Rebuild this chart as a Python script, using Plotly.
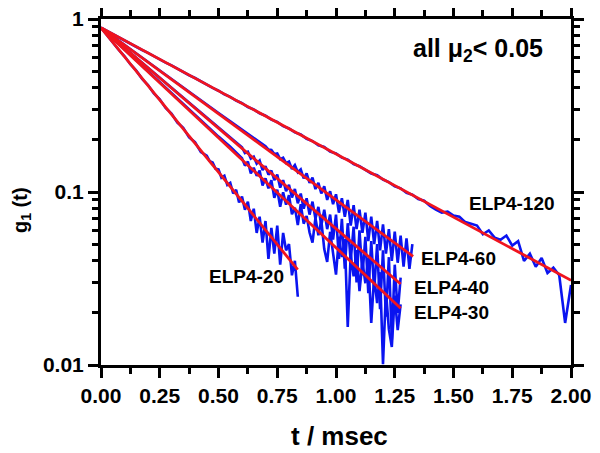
import numpy as np
import plotly.graph_objects as go

# ---------------- data ----------------
# ELP4-120
t_elp120 = [0.000, 0.025, 0.050, 0.075, 0.100, 0.125, 0.150, 0.175, 0.200, 0.225,
            0.250, 0.275, 0.300, 0.325, 0.350, 0.375, 0.400, 0.425, 0.450, 0.475,
            0.500, 0.525, 0.550, 0.575, 0.600, 0.625, 0.650, 0.675, 0.700, 0.725,
            0.750, 0.775, 0.800, 0.825, 0.850, 0.875, 0.900, 0.925, 0.950, 0.975,
            1.000, 1.025, 1.050, 1.075, 1.100, 1.125, 1.150, 1.175, 1.200, 1.225,
            1.250, 1.275, 1.300, 1.325, 1.350, 1.375, 1.400, 1.425, 1.450, 1.475,
            1.500, 1.525, 1.550, 1.575, 1.600, 1.625, 1.650, 1.675, 1.700, 1.725,
            1.750, 1.775, 1.800, 1.825, 1.850, 1.875, 1.900, 1.925, 1.950, 1.975,
            2.000]
g_elp120 = [0.890, 0.852, 0.819, 0.784, 0.753, 0.720, 0.693, 0.662, 0.637, 0.609,
            0.586, 0.560, 0.539, 0.515, 0.496, 0.473, 0.456, 0.435, 0.419, 0.400,
            0.385, 0.367, 0.355, 0.338, 0.326, 0.310, 0.300, 0.285, 0.276, 0.262,
            0.254, 0.240, 0.233, 0.221, 0.215, 0.203, 0.197, 0.186, 0.182, 0.171,
            0.167, 0.158, 0.154, 0.145, 0.141, 0.135, 0.128, 0.125, 0.118, 0.114,
            0.108, 0.105, 0.0990, 0.0965, 0.0910, 0.0890, 0.0830, 0.0790, 0.0760, 0.0770,
            0.0730, 0.0720, 0.0670, 0.0655, 0.0640, 0.0570, 0.0600, 0.0545, 0.0530, 0.0560,
            0.0490, 0.0520, 0.0400, 0.0440, 0.0370, 0.0415, 0.0340, 0.0365, 0.0330, 0.0175,
            0.0290]

# ELP4-60
t_elp60 = [0.000, 0.050, 0.100, 0.150, 0.200, 0.250, 0.300, 0.350, 0.400, 0.450,
           0.500, 0.550, 0.600, 0.650,
           0.7000, 0.7125, 0.7250, 0.7375, 0.7500, 0.7625, 0.7750, 0.7875, 0.8000, 0.8125,
           0.8250, 0.8375, 0.8500, 0.8625, 0.8750, 0.8875, 0.9000, 0.9125, 0.9250, 0.9375,
           0.9500, 0.9625, 0.9750, 0.9875, 1.0000, 1.0125, 1.0250, 1.0375, 1.0500, 1.0625,
           1.0750, 1.0875, 1.1000, 1.1125, 1.1250, 1.1375, 1.1500, 1.1625, 1.1750, 1.1875,
           1.2000, 1.2125, 1.2250, 1.2375, 1.2500, 1.2625, 1.2750, 1.2875, 1.3000, 1.3125,
           1.3250]
g_elp60 = [0.890, 0.796, 0.710, 0.633, 0.565, 0.504, 0.450, 0.401, 0.358, 0.320,
           0.286, 0.256, 0.229, 0.205,
           0.184, 0.176, 0.175, 0.166, 0.167, 0.155, 0.158, 0.147, 0.150, 0.136,
           0.143, 0.130, 0.135, 0.120, 0.128, 0.113, 0.121, 0.104, 0.113, 0.0980,
           0.108, 0.0900, 0.101, 0.0850, 0.0970, 0.0760, 0.0920, 0.0720, 0.0900, 0.0640,
           0.0840, 0.0610, 0.0790, 0.0580, 0.0760, 0.0520, 0.0720, 0.0500, 0.0680, 0.0460,
           0.0650, 0.0440, 0.0610, 0.0400, 0.0590, 0.0390, 0.0560, 0.0370, 0.0540, 0.0360,
           0.0500]

# ELP4-40
t_elp40 = [0.000, 0.050, 0.100, 0.150, 0.200, 0.250, 0.300, 0.350, 0.400, 0.450,
           0.500, 0.550,
           0.6000, 0.6125, 0.6250, 0.6375, 0.6500, 0.6625, 0.6750, 0.6875, 0.7000, 0.7125,
           0.7250, 0.7375, 0.7500, 0.7625, 0.7750, 0.7875, 0.8000, 0.8125, 0.8250, 0.8375,
           0.8500, 0.8625, 0.8750, 0.8875, 0.9000, 0.9125, 0.9250, 0.9375, 0.9500, 0.9625,
           0.9750, 0.9875, 1.0000, 1.0125, 1.0250, 1.0375, 1.0500, 1.0625, 1.0750, 1.0875,
           1.1000, 1.1125, 1.1250, 1.1375, 1.1500, 1.1625, 1.1750, 1.1875, 1.2000, 1.2125,
           1.2250, 1.2375, 1.2500, 1.2625, 1.2750]
g_elp40 = [0.890, 0.781, 0.683, 0.598, 0.523, 0.458, 0.401, 0.351, 0.307, 0.269,
           0.236, 0.208,
           0.181, 0.168, 0.171, 0.156, 0.160, 0.146, 0.152, 0.134, 0.141, 0.126,
           0.133, 0.117, 0.126, 0.106, 0.117, 0.101, 0.110, 0.0930, 0.104, 0.0860,
           0.0980, 0.0800, 0.0920, 0.0740, 0.0880, 0.0700, 0.0820, 0.0640, 0.0790, 0.0610,
           0.0740, 0.0530, 0.0740, 0.0410, 0.0700, 0.0360, 0.0660, 0.0400, 0.0630, 0.0300,
           0.0600, 0.0330, 0.0550, 0.0260, 0.0520, 0.0270, 0.0500, 0.0210, 0.0460, 0.0190,
           0.0420, 0.0140, 0.0380, 0.0200, 0.0320]

# ELP4-30
t_elp30 = [0.000, 0.050, 0.100, 0.150, 0.200, 0.250, 0.300, 0.350, 0.400, 0.450,
           0.500, 0.550,
           0.6000, 0.6125, 0.6250, 0.6375, 0.6500, 0.6625, 0.6750, 0.6875, 0.7000, 0.7125,
           0.7250, 0.7375, 0.7500, 0.7625, 0.7750, 0.7875, 0.8000, 0.8125, 0.8250, 0.8375,
           0.8500, 0.8625, 0.8750, 0.8875, 0.9000, 0.9125, 0.9250, 0.9375, 0.9500, 0.9625,
           0.9750, 0.9875, 1.0000, 1.0125, 1.0250, 1.0375, 1.0500, 1.0625, 1.0750, 1.0875,
           1.1000, 1.1125, 1.1250, 1.1375, 1.1500, 1.1625, 1.1750, 1.1875, 1.2000, 1.2125,
           1.2250, 1.2375, 1.2500, 1.2625, 1.2750]
g_elp30 = [0.890, 0.771, 0.667, 0.577, 0.499, 0.431, 0.373, 0.323, 0.279, 0.242,
           0.209, 0.183,
           0.157, 0.142, 0.150, 0.128, 0.138, 0.124, 0.133, 0.109, 0.120, 0.105,
           0.117, 0.0925, 0.103, 0.0821, 0.0995, 0.0844, 0.0959, 0.0743, 0.0812, 0.0644,
           0.0851, 0.0656, 0.0728, 0.0583, 0.0510, 0.0708, 0.0563, 0.0686, 0.0468, 0.0394,
           0.0589, 0.0454, 0.0333, 0.0551, 0.0421, 0.0534, 0.0166, 0.0437, 0.0325, 0.0461,
           0.0267, 0.0394, 0.0297, 0.0415, 0.0175, 0.0326, 0.0228, 0.0344, 0.0101, 0.0269,
           0.0161, 0.0127, 0.0252, 0.0159, 0.0224]

# ELP4-20
t_elp20 = [0.000, 0.025, 0.050, 0.075, 0.100, 0.125, 0.150, 0.175, 0.200, 0.225,
           0.250, 0.275, 0.300, 0.325, 0.350, 0.375, 0.400, 0.425,
           0.4500, 0.4625, 0.4750, 0.4875, 0.5000, 0.5125, 0.5250, 0.5375, 0.5500, 0.5625,
           0.5750, 0.5875, 0.6000, 0.6125, 0.6250, 0.6375, 0.6500, 0.6625, 0.6750, 0.6875,
           0.7000, 0.7125, 0.7250, 0.7375, 0.7500, 0.7625, 0.7750, 0.7875, 0.8000, 0.8125,
           0.8250, 0.8375]
g_elp20 = [0.890, 0.806, 0.738, 0.664, 0.609, 0.548, 0.503, 0.451, 0.415, 0.372,
           0.343, 0.306, 0.284, 0.252, 0.235, 0.207, 0.194, 0.170,
           0.162, 0.151, 0.148, 0.136, 0.135, 0.121, 0.124, 0.110, 0.113, 0.098,
           0.103, 0.087, 0.094, 0.079, 0.088, 0.068, 0.080, 0.058, 0.072, 0.051,
           0.068, 0.041, 0.062, 0.044, 0.064, 0.038, 0.058, 0.046, 0.050, 0.033,
           0.040, 0.0248]

# single-exponential fits: start / end points
fit_names = ["ELP4-120", "ELP4-60", "ELP4-40", "ELP4-30", "ELP4-20"]
fit_t_end = [2.000, 1.328, 1.275, 1.275, 0.837]
fit_g0 = [0.89, 0.89, 0.89, 0.89, 0.89]
fit_g_end = [0.0309, 0.0425, 0.0294, 0.0213, 0.0356]

# label positions (data units)
label_t = [1.75, 1.52, 1.49, 1.49, 0.62]
label_g = [0.0853, 0.041, 0.0282, 0.020, 0.0323]

# ---------------- figure ----------------
series = [(t_elp120, g_elp120), (t_elp60, g_elp60), (t_elp40, g_elp40),
          (t_elp30, g_elp30), (t_elp20, g_elp20)]

FONT = "Liberation Sans"
OFF = 8  # page body margin offset
W, H = 600 - OFF, 453 - OFF
L, TOP = 101 - OFF, 19 - OFF
R = W - (571 - OFF)
B = H - (365 - OFF)
PW, PH = W - L - R, H - TOP - B


def px_to_paper(px, py):
    """Window pixel -> paper coordinates."""
    return (px - OFF - L) / PW, (H - B - (py - OFF)) / PH


fig = go.Figure()
for t, g in series:
    fig.add_trace(go.Scatter(x=t, y=g, mode="lines",
                             line=dict(color="#0a14f0", width=2.6),
                             showlegend=False, hoverinfo="skip"))
for te, g0, ge in zip(fit_t_end, fit_g0, fit_g_end):
    fig.add_trace(go.Scatter(x=[0, te], y=[g0, ge], mode="lines",
                             line=dict(color="#f0141e", width=2.8),
                             showlegend=False, hoverinfo="skip"))

for name, lt, lg in zip(fit_names, label_t, label_g):
    fig.add_annotation(x=lt, y=np.log10(lg), xref="x", yref="y", text=name,
                       showarrow=False, xanchor="center", yanchor="middle",
                       font=dict(family=FONT, size=19, color="black", weight="bold"))

fig.add_annotation(x=1.605, y=np.log10(0.66), xref="x", yref="y",
                   text="all μ<sub>2</sub>< 0.05", showarrow=False,
                   xanchor="center", yanchor="middle",
                   font=dict(family=FONT, size=25, color="black", weight="bold"))

# axis titles
xt, yt = px_to_paper(339, 436)
fig.add_annotation(x=xt, y=yt, xref="paper", yref="paper",
                   text="t / msec", showarrow=False, xanchor="center", yanchor="middle",
                   font=dict(family=FONT, size=26, color="black", weight="bold"))
xg, yg = px_to_paper(21, 210)
fig.add_annotation(x=xg, y=yg, xref="paper", yref="paper",
                   text="g<sub>1</sub> (t)", showarrow=False, textangle=-90,
                   xanchor="center", yanchor="middle",
                   font=dict(family=FONT, size=20, color="black", weight="bold"))

fig.update_layout(
    width=W, height=H,
    margin=dict(l=L, r=R, t=TOP, b=B, autoexpand=False),
    paper_bgcolor="white", plot_bgcolor="white",
    xaxis=dict(range=[0, 2], tickmode="array", automargin=False,
               ticklabeloverflow="allow",
               tickvals=[0, 0.25, 0.5, 0.75, 1.0, 1.25, 1.5, 1.75, 2.0],
               ticktext=["0.00", "0.25", "0.50", "0.75", "1.00", "1.25", "1.50", "1.75", "2.00"],
               ticks="outside", ticklen=10, tickwidth=2.5, tickcolor="black",
               showline=True, linewidth=3, linecolor="black", mirror="ticks",
               showgrid=False, zeroline=False,
               tickfont=dict(family=FONT, size=21, color="black", weight="bold"),
               minor=dict(tickvals=[0.125, 0.375, 0.625, 0.875, 1.125, 1.375, 1.625, 1.875],
                          ticks="outside", ticklen=6, tickwidth=2.5, tickcolor="black",
                          showgrid=False)),
    yaxis=dict(type="log", range=[-2, 0], tickmode="array", automargin=False,
               ticklabeloverflow="allow",
               tickvals=[0.01, 0.1, 1], ticktext=["0.01", "0.1", "1"],
               ticks="outside", ticklen=10, tickwidth=2.5, tickcolor="black",
               showline=True, linewidth=3, linecolor="black", mirror="ticks",
               showgrid=False, zeroline=False,
               tickfont=dict(family=FONT, size=21, color="black", weight="bold"),
               minor=dict(tickvals=[0.02, 0.03, 0.04, 0.05, 0.06, 0.07, 0.08, 0.09,
                                    0.2, 0.3, 0.4, 0.5, 0.6, 0.7, 0.8, 0.9],
                          ticks="outside", ticklen=6, tickwidth=2.5, tickcolor="black",
                          showgrid=False)),
)

fig.write_html("out.html")
